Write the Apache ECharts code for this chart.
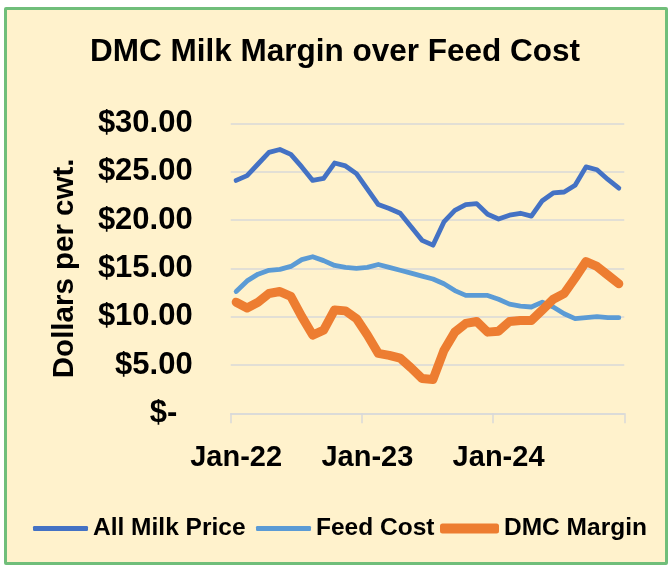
<!DOCTYPE html>
<html>
<head>
<meta charset="utf-8">
<script src="https://cdn.jsdelivr.net/npm/echarts@6/dist/echarts.min.js"></script>
<style>
html,body{margin:0;padding:0;background:#ffffff;}
#frame{position:absolute;left:4px;top:7px;width:658px;height:552px;border:3.5px solid #70BE7A;background:#FFF2CC;border-radius:2px;}
#chart{position:absolute;left:0;top:0;width:670px;height:569px;}
</style>
</head>
<body>
<div id="frame"></div>
<div id="chart"></div>
<script>
const categories = ['Jan-22','Feb-22','Mar-22','Apr-22','May-22','Jun-22','Jul-22','Aug-22','Sep-22','Oct-22','Nov-22','Dec-22',
  'Jan-23','Feb-23','Mar-23','Apr-23','May-23','Jun-23','Jul-23','Aug-23','Sep-23','Oct-23','Nov-23','Dec-23',
  'Jan-24','Feb-24','Mar-24','Apr-24','May-24','Jun-24','Jul-24','Aug-24','Sep-24','Oct-24','Nov-24','Dec-24'];
const allMilkPrice = [24.1,24.6,25.8,27.0,27.3,26.8,25.5,24.1,24.3,25.9,25.6,24.8,23.2,21.6,21.2,20.7,19.3,17.9,17.4,19.8,21.0,21.6,21.7,20.6,20.1,20.5,20.7,20.4,22.0,22.8,22.9,23.6,25.5,25.2,24.2,23.3];
const feedCost = [12.6,13.7,14.4,14.8,14.9,15.2,15.9,16.2,15.8,15.3,15.1,15.0,15.1,15.4,15.1,14.8,14.5,14.2,13.9,13.4,12.7,12.2,12.2,12.2,11.8,11.3,11.1,11.0,11.5,11.0,10.3,9.8,9.9,10.0,9.9,9.9];
const dmcMargin = [11.5,10.9,11.5,12.4,12.6,12.1,10.0,8.1,8.6,10.7,10.6,9.8,8.1,6.2,6.0,5.7,4.7,3.6,3.5,6.5,8.4,9.3,9.5,8.4,8.5,9.5,9.6,9.6,10.7,11.8,12.4,14.0,15.7,15.2,14.3,13.4];
const yTicks = [0,5,10,15,20,25,30];
const seriesNames = ['All Milk Price','Feed Cost','DMC Margin'];

const FONT = '"Liberation Sans", Arial, sans-serif';
const legendText = {fontFamily: FONT, fontWeight: 'bold', fontSize: 24.5, color: '#000'};
function mkLegend(name, left, w, h) {
  return {left: left, top: 516, padding: 0, itemWidth: w, itemHeight: h, icon: 'roundRect', itemGap: 0,
          textStyle: legendText, data: [name]};
}
const chart = echarts.init(document.getElementById('chart'), null, {renderer:'canvas'});
chart.setOption({
  animation: false,
  backgroundColor: 'transparent',
  title: {
    text: 'DMC Milk Margin over Feed Cost',
    left: 'center',
    top: 31,
    textStyle: {fontFamily: FONT, fontWeight: 'bold', fontSize: 31.5, color: '#000'}
  },
  legend: [
    mkLegend(seriesNames[0], 33, 55, 5),
    mkLegend(seriesNames[1], 256, 55, 5),
    mkLegend(seriesNames[2], 440, 59, 10)
  ],
  grid: {left: 230.7, right: 45.7, top: 123.4, bottom: 155.7, containLabel: false},
  xAxis: {
    type: 'category',
    data: categories,
    boundaryGap: true,
    axisLine: {show: true, lineStyle: {color: '#D9D9D9', width: 1.5}},
    axisTick: {show: true, interval: 11, length: 10, lineStyle: {color: '#D9D9D9', width: 1.5}},
    axisLabel: {interval: 11, margin: 30, fontFamily: FONT, fontWeight: 'bold', fontSize: 29, color: '#000'},
    splitLine: {show: false}
  },
  yAxis: {
    type: 'value',
    min: yTicks[0],
    max: yTicks[yTicks.length-1],
    interval: 5,
    name: 'Dollars per cwt.',
    nameLocation: 'middle',
    nameRotate: 90,
    nameGap: 151,
    nameTextStyle: {fontFamily: FONT, fontWeight: 'bold', fontSize: 29.5, color: '#000'},
    axisLine: {show: false},
    axisTick: {show: false},
    axisLabel: {
      margin: 38,
      fontFamily: FONT, fontWeight: 'bold', fontSize: 31, color: '#000',
      formatter: function (v) { return v === 0 ? '$-\u2002' : '$' + v.toFixed(2); }
    },
    splitLine: {lineStyle: {color: '#D9D9D9', width: 1.5}}
  },
  series: [
    {name: seriesNames[0], type: 'line', data: allMilkPrice, symbol: 'none',
     lineStyle: {color: '#4472C4', width: 4.8, cap: 'round', join: 'round'}, itemStyle: {color: '#4472C4'}},
    {name: seriesNames[1], type: 'line', data: feedCost, symbol: 'none',
     lineStyle: {color: '#5B9BD5', width: 4.8, cap: 'round', join: 'round'}, itemStyle: {color: '#5B9BD5'}},
    {name: seriesNames[2], type: 'line', data: dmcMargin, symbol: 'none',
     lineStyle: {color: '#ED7D31', width: 9, cap: 'round', join: 'round'}, itemStyle: {color: '#ED7D31'}}
  ]
});
</script>
</body>
</html>
